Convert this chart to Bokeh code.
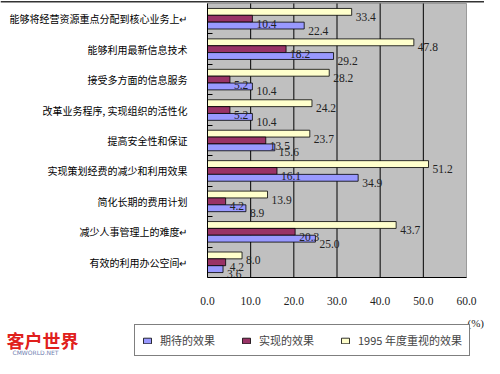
from bokeh.plotting import figure
from bokeh.models import (ColumnDataSource, FixedTicker, Legend, LegendItem, Label,
                          NumeralTickFormatter, Range1d, BoxAnnotation, Span)
from bokeh.transform import dodge
from bokeh.embed import file_html
from bokeh.resources import INLINE
from bokeh.core.properties import value

categories = [
    "能够将经营资源重点分配到核心业务上↵",
    "能够利用最新信息技术",
    "接受多方面的信息服务",
    "改革业务程序, 实现组织的活性化",
    "提高安全性和保证",
    "实现策划经费的减少和利用效果",
    "简化长期的费用计划",
    "减少人事管理上的难度↵",
    "有效的利用办公空间↵",
]
expected = [22.4, 29.2, 10.4, 10.4, 15.6, 34.9, 8.9, 25.0, 3.6]
realized = [10.4, 18.2, 5.2, 5.2, 13.5, 16.1, 4.2, 20.3, 4.2]
focus_1995 = [33.4, 47.8, 28.2, 24.2, 23.7, 51.2, 13.9, 43.7, 8.0]
series_names = ["期待的效果", "实现的效果", "1995 年度重视的效果"]
series_colors = ["#9999FF", "#993366", "#FFFFCC"]
x_ticks = [0, 10, 20, 30, 40, 50, 60]

n = len(categories)
xmax = x_ticks[-1]
centers = [n - i - 0.5 for i in range(n)]
bh = 0.225

src = ColumnDataSource(dict(
    y=centers,
    exp=expected, real=realized, foc=focus_1995,
    exp_l=["%.1f" % v for v in expected],
    real_l=["%.1f" % v for v in realized],
    foc_l=["%.1f" % v for v in focus_1995],
))

W, H = 484, 358
# plot area occupies pixels 207..466 horizontally and 3..277 vertically
px_x = (466 - 207) / xmax
px_y = (277 - 3) / n
p = figure(width=W, height=H, output_backend="svg", toolbar_location=None,
           x_range=Range1d(-207 / px_x, xmax + (W - 466) / px_x),
           y_range=Range1d(-(H - 277) / px_y, n + 3 / px_y),
           min_border=0, min_border_left=0, min_border_right=0,
           min_border_top=0, min_border_bottom=0)
p.background_fill_color = "white"
p.border_fill_color = "white"
p.outline_line_color = None
p.grid.visible = False

# thin page rule across the top
p.add_layout(Span(location=n + 1.8 / px_y, dimension="width",
                  line_color="#333333", line_width=1.5))

p.add_layout(BoxAnnotation(left=0, right=xmax, bottom=0, top=n,
                           fill_color="#C0C0C0", fill_alpha=1,
                           line_color="black", line_width=1, level="underlay"))

grid_src = ColumnDataSource(dict(x=x_ticks[1:-1], y0=[0] * (len(x_ticks) - 2),
                                 y1=[n] * (len(x_ticks) - 2)))
p.segment(x0="x", x1="x", y0="y0", y1="y1", source=grid_src,
          line_color="black", line_width=1)

p.xaxis.fixed_location = 0
p.xaxis.bounds = (0, xmax)
p.xaxis.ticker = FixedTicker(ticks=x_ticks)
p.xaxis.formatter = NumeralTickFormatter(format="0.0")
p.xaxis.major_tick_in = 0
p.xaxis.major_tick_out = 0
p.xaxis.minor_tick_in = 0
p.xaxis.minor_tick_out = 0
p.xaxis.axis_line_color = "black"
p.xaxis.major_label_standoff = 19
p.xaxis.major_label_text_font = "Liberation Serif"
p.xaxis.major_label_text_font_size = "11.5px"
p.xaxis.major_label_text_color = "#222222"

p.yaxis.fixed_location = 0
p.yaxis.bounds = (0, n)
p.yaxis.ticker = FixedTicker(ticks=centers, minor_ticks=list(range(1, n)))
p.yaxis.major_label_overrides = {c: lab for c, lab in zip(centers, categories)}
p.yaxis.major_tick_in = 0
p.yaxis.major_tick_out = 0
p.yaxis.minor_tick_in = 5
p.yaxis.minor_tick_out = 0
p.yaxis.minor_tick_line_color = "black"
p.yaxis.axis_line_color = "black"
p.yaxis.major_label_standoff = 20
p.yaxis.major_label_text_font = "Noto Sans CJK SC"
p.yaxis.major_label_text_font_size = "10px"
p.yaxis.major_label_text_color = "black"

r_foc = p.hbar(y=dodge("y", bh, range=p.y_range), left=0, right="foc", height=bh,
               source=src, fill_color=series_colors[2], line_color="black", line_width=0.8)
r_real = p.hbar(y="y", left=0, right="real", height=bh,
                source=src, fill_color=series_colors[1], line_color="black", line_width=0.8)
r_exp = p.hbar(y=dodge("y", -bh, range=p.y_range), left=0, right="exp", height=bh,
               source=src, fill_color=series_colors[0], line_color="black", line_width=0.8)

for col, lab, off in [("foc", "foc_l", bh), ("real", "real_l", 0), ("exp", "exp_l", -bh)]:
    p.text(x=col, y=dodge("y", off, range=p.y_range), text=lab, source=src,
           x_offset=4, y_offset=5, text_baseline="middle", text_align="left",
           text_font=value("Liberation Serif"), text_font_size="11.5px",
           text_color="#222222")

legend = Legend(items=[
    LegendItem(label=series_names[0], renderers=[r_exp]),
    LegendItem(label=series_names[1], renderers=[r_real]),
    LegendItem(label=series_names[2], renderers=[r_foc]),
], orientation="horizontal", location=(134, 2),
    border_line_color="black", border_line_width=1,
    background_fill_color="white", background_fill_alpha=1,
    glyph_width=10, glyph_height=7, label_standoff=8, spacing=26, padding=7,
    label_text_font="Noto Sans CJK SC", label_text_font_size="11px",
    label_height=14)
p.add_layout(legend)

p.add_layout(Label(x=xmax, y=-(322 - 277) / px_y, x_offset=1, text="(%)",
                   text_baseline="middle", text_align="left",
                   text_font="Liberation Serif", text_font_size="11px", text_color="#222222"))

# site logo (watermark), bottom left
logo_src = ColumnDataSource(dict(x=[-201 / px_x], y=[-(339 - 277) / px_y], t=["客户世界"]))
p.text(x="x", y="y", text="t", source=logo_src, text_baseline="middle", text_align="left",
       text_font=value("Noto Sans CJK SC"), text_font_style="bold",
       text_font_size="18px", text_color="#E0201C")
site_src = ColumnDataSource(dict(x=[-195 / px_x], y=[-(352 - 277) / px_y], t=["CMWORLD.NET"]))
p.text(x="x", y="y", text="t", source=site_src, text_baseline="middle", text_align="left",
       text_font=value("DejaVu Sans"), text_font_size="6px", text_color="#7080B0")

open("out.html", "w").write(file_html(p, INLINE))
